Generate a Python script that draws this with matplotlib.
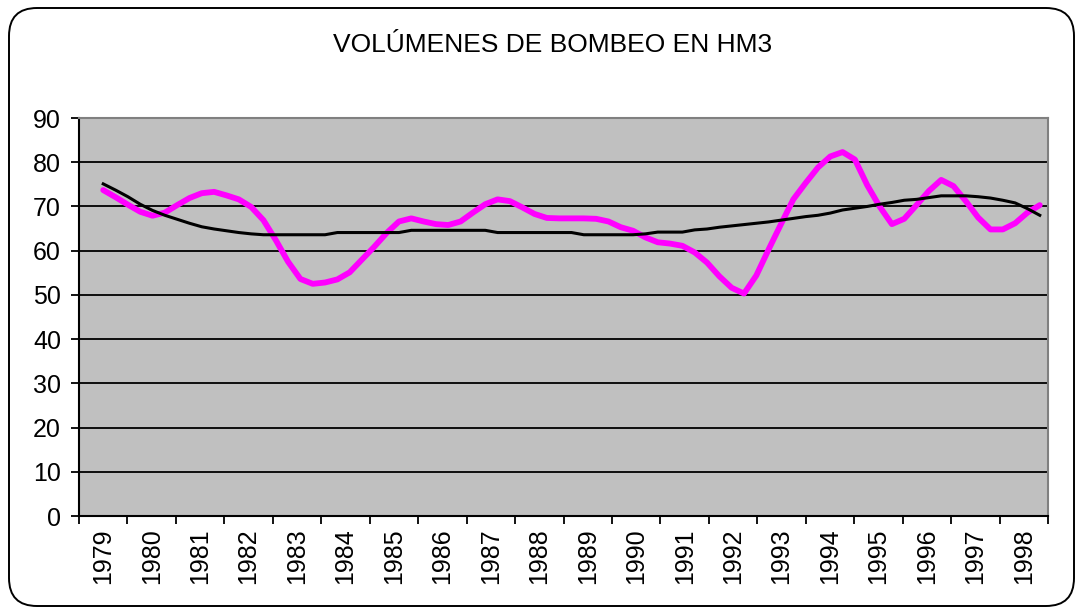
import numpy as np
import matplotlib
matplotlib.use("Agg")
import matplotlib.pyplot as plt
from matplotlib.patches import FancyBboxPatch

plt.rcParams['font.family'] = ['Liberation Sans', 'DejaVu Sans']

title = "VOLÚMENES DE BOMBEO EN HM3"
years = list(range(1979, 1999))
first_t, last_t = 1979.0, 1998.33   # roughly one sample per quarter

# pumped volume (magenta) and its running mean (black), hm3
bombeo = [73.7, 72.1, 70.4, 68.8, 67.9, 68.6, 70.3, 71.9,
          73.0, 73.3, 72.5, 71.6, 69.9, 66.9, 62.4, 57.5,
          53.6, 52.5, 52.8, 53.5, 55.1, 58.0, 60.9, 64.0,
          66.6, 67.3, 66.6, 66.0, 65.8, 66.6, 68.6, 70.5,
          71.6, 71.2, 69.8, 68.3, 67.4, 67.3, 67.3, 67.3,
          67.2, 66.6, 65.3, 64.5, 63.0, 61.9, 61.6, 61.1,
          59.6, 57.3, 54.2, 51.6, 50.3, 54.4, 60.3, 66.0,
          71.6, 75.3, 78.8, 81.3, 82.3, 80.6, 74.8, 70.0,
          66.0, 67.2, 70.3, 73.5, 76.0, 74.6, 71.2, 67.5,
          64.8, 64.8, 66.2, 68.6, 70.3]
media = [75.1, 73.7, 72.2, 70.5, 69.1, 68.0, 67.1, 66.2,
         65.4, 64.9, 64.5, 64.1, 63.8, 63.6, 63.6, 63.6,
         63.6, 63.6, 63.6, 64.1, 64.1, 64.1, 64.1, 64.1,
         64.1, 64.6, 64.6, 64.6, 64.6, 64.6, 64.6, 64.6,
         64.1, 64.1, 64.1, 64.1, 64.1, 64.1, 64.1, 63.6,
         63.6, 63.6, 63.6, 63.6, 63.8, 64.2, 64.2, 64.2,
         64.7, 64.9, 65.3, 65.6, 65.9, 66.2, 66.5, 66.9,
         67.3, 67.7, 68.0, 68.5, 69.2, 69.6, 70.0, 70.5,
         70.9, 71.4, 71.6, 72.0, 72.4, 72.4, 72.4, 72.2,
         71.9, 71.4, 70.8, 69.5, 68.0]

t = np.linspace(first_t, last_t, len(bombeo))

fig = plt.figure(figsize=(10.79, 6.12), dpi=100)
ax = fig.add_axes([79 / 1079, 1 - 516 / 612, 969 / 1079, 398 / 612])
ax.set_facecolor('#C0C0C0')

ax.plot(t, bombeo, color='#FF00FF', lw=4.2, solid_joinstyle='round', solid_capstyle='round', zorder=3)
ax.plot(t, media, color='black', lw=2.2, zorder=4)

ax.set_ylim(0, 90)
ax.set_yticks(range(0, 91, 10))
ax.yaxis.grid(True, color='black', lw=1.3)
ax.set_axisbelow(True)

ax.set_xlim(years[0] - 0.5, years[-1] + 0.5)
ax.set_xticks(np.arange(years[0] - 0.5, years[-1] + 0.6, 1.0))
ax.set_xticklabels([])
ax.set_xticks(years, minor=True)
ax.set_xticklabels([str(y) for y in years], minor=True, rotation=90, fontsize=18)
ax.tick_params(axis='x', which='minor', length=0, pad=9)
ax.tick_params(axis='x', which='major', length=6, width=1.3, direction='out')
ax.tick_params(axis='y', length=6, width=1.3, labelsize=18, pad=7)

for side in ('left', 'bottom'):
    ax.spines[side].set_color('black')
    ax.spines[side].set_linewidth(1.5)
for side in ('top', 'right'):
    ax.spines[side].set_color('#808080')
    ax.spines[side].set_linewidth(1.5)

fig.text(553 / 1079, 1 - 45 / 612, title, ha='center', va='center', fontsize=19)

# rounded outer frame (pixel coordinates)
frame = FancyBboxPatch((9, 6), 1065, 598, boxstyle="round,pad=0,rounding_size=28",
                       transform=None, fill=False, edgecolor='black', lw=1.4)
fig.patches.append(frame)

fig.savefig('out.png', dpi=100)
